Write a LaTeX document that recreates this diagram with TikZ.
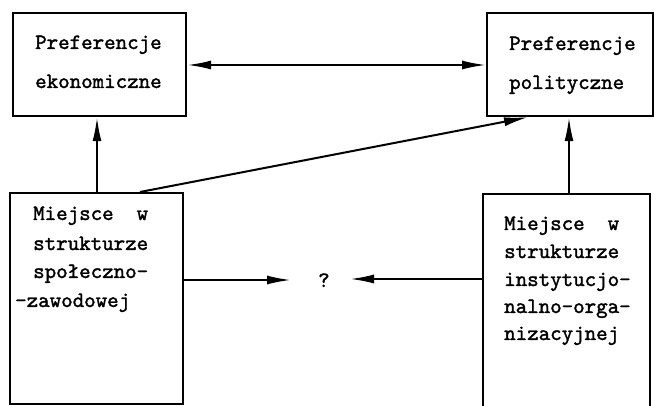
\documentclass[tikz,border=0pt]{standalone}
\usepackage{fontspec}
\newfontfamily\tw{lmmono10-regular.otf}[FakeBold=1.6]
\usetikzlibrary{arrows.meta}
\begin{document}
\begin{tikzpicture}[x=1pt,y=-1pt,
  box/.style={draw,line width=2.2pt,anchor=north west,inner sep=0pt},
  txt/.style={anchor=base west,inner sep=0pt,font=\fontsize{21.9}{24}\tw},
  conn/.style={line width=2pt,-{Latex[length=24pt,width=9pt]}},
  biconn/.style={line width=2pt,{Latex[length=24pt,width=9pt]}-{Latex[length=24pt,width=9pt]}}]
\useasboundingbox (0,0) rectangle (654,406);
\clip (0,0) rectangle (654,406);
% boxes
\node[box,minimum width=173pt,minimum height=103pt] (A) at (12,12) {};
\node[box,minimum width=166pt,minimum height=103pt] (B) at (486,12) {};
\node[box,minimum width=173pt,minimum height=211pt] (C) at (9,192) {};
\node[box,minimum width=167pt,minimum height=230pt] (D) at (482,193) {};
% texts
\node[txt] (a1) at (35,49) {Preferencje};
\node[txt] (a2) at (35,88) {ekonomiczne};
\node[txt] (b1) at (509,50) {Preferencje};
\node[txt] (b2) at (509,89) {polityczne};
\node[txt] (c1) at (33,220) {Miejsce\ \ w};
\node[txt] (c2) at (33,250) {strukturze};
\node[txt] (c3) at (33,278) {społeczno-};
\node[txt] (c4) at (15,307) {-zawodowej};
\node[txt] (d1) at (504,230) {Miejsce\ \ w};
\node[txt] (d2) at (504,258) {strukturze};
\node[txt] (d3) at (504,286) {instytucjo-};
\node[txt] (d4) at (504,313) {nalno-orga-};
\node[txt] (d5) at (504,340) {nizacyjnej};
\node[txt] (q) at (318,287) {?};
% connectors
\coordinate (ab1) at (A.east |- 0,65);
\coordinate (ab2) at (B.west |- 0,65);
\draw[biconn] (ab1) -- (ab2);
\draw[conn] (C.north -| 97,0) -- (A.south -| 97,0);
\draw[conn] (C.north -| 140,0) -- (B.south -| 528,0);
\draw[conn] (D.north -| 569,0) -- (B.south -| 569,0);
\coordinate (qL) at (291,280);
\coordinate (qR) at (350,279);
\draw[conn] (C.east |- 0,280) -- (qL);
\draw[conn] (D.west |- 0,279) -- (qR);
\end{tikzpicture}
\end{document}
